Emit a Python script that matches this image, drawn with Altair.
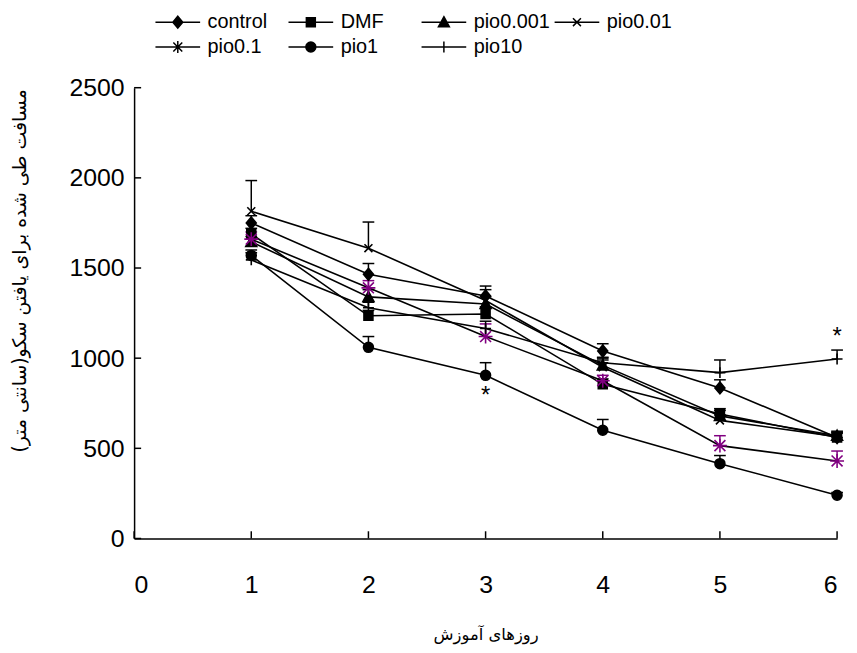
import altair as alt
import pandas as pd

days = [1, 2, 3, 4, 5, 6]
series_names = ["control", "DMF", "pio0.001", "pio0.01", "pio0.1", "pio1", "pio10"]
values = {
    "control":  [1750, 1465, 1345, 1040, 835, 560],
    "DMF":      [1690, 1235, 1245, 855, 690, 560],
    "pio0.001": [1645, 1340, 1300, 960, 680, 570],
    "pio0.01":  [1815, 1610, 1320, 950, 655, 565],
    "pio0.1":   [1660, 1390, 1120, 875, 515, 430],
    "pio1":     [1570, 1060, 905, 600, 415, 240],
    "pio10":    [1545, 1280, 1165, 975, 920, 995],
}
errors = {
    "control":  [40, 60, 55, 40, 45, 25],
    "DMF":      [30, 30, 40, 30, 30, 25],
    "pio0.001": [30, 40, 40, 40, 30, 25],
    "pio0.01":  [170, 145, 60, 40, 30, 25],
    "pio0.1":   [40, 40, 70, 30, 55, 55],
    "pio1":     [30, 60, 70, 60, 45, 15],
    "pio10":    [40, 30, 40, 30, 70, 50],
}
annot_days = [3, 6]
annot_vals = [790, 1115]
y_ticks = [0, 500, 1000, 1500, 2000, 2500]
x_ticks = [0, 1, 2, 3, 4, 5, 6]

marker_paths = [
    "M0,-1.2L1,0L0,1.2L-1,0Z",
    "M-0.9,-0.9H0.9V0.9H-0.9Z",
    "M0,-1.1L1.1,0.9H-1.1Z",
    "M-0.8,-0.8L0.8,0.8M-0.8,0.8L0.8,-0.8",
    "M-1.1,-1.1L1.1,1.1M-1.1,1.1L1.1,-1.1M0,-1.4V1.4M-1.4,0H1.4",
    "M1,0A1,1,0,1,1,-1,0A1,1,0,1,1,1,0Z",
    "M0,-1.1V1.1M-1.1,0H1.1",
]
legend_markers = marker_paths[:4] + [
    "M-0.9,-0.9L0.9,0.9M-0.9,0.9L0.9,-0.9M0,-1.2V1.2"] + marker_paths[5:]
line_seg = "M-4.5,0H4.5"
legend_paths = [line_seg + p for p in legend_markers]
colors = ["black", "black", "black", "black", "#800080", "black", "black"]
legend_colors = ["black"] * 7

rows = []
for s in series_names:
    for d, v, e in zip(days, values[s], errors[s]):
        rows.append({"day": d, "series": s, "value": v, "top": v + e})
df = pd.DataFrame(rows)
annot_df = pd.DataFrame({"day": annot_days, "value": annot_vals, "t": ["*", "*"]})
yt_df = pd.DataFrame({"v": y_ticks})
xt_df = pd.DataFrame({"d": x_ticks})

FONT = "Liberation Sans"
xscale = alt.Scale(domain=[0, 6], nice=False, zero=False)
yscale = alt.Scale(domain=[0, 2500], nice=False)

x_enc = alt.X("day:Q", scale=xscale, axis=alt.Axis(
    values=x_ticks, format="d", tickSize=0, labelPadding=34, labelFontSize=25, labelFont=FONT,
    labelColor="black", domainColor="black", domainWidth=1.5, grid=False,
    title="روزهای آموزش", titleFont="DejaVu Sans", titleFontSize=16.5,
    titleFontWeight="normal", titleColor="black", titlePadding=30))
y_enc = alt.Y("value:Q", scale=yscale, axis=alt.Axis(
    values=y_ticks, format="d", tickSize=0, labelPadding=10, labelFontSize=25, labelFont=FONT,
    labelColor="black", domainColor="black", domainWidth=1.5, grid=False,
    title="مسافت طی شده برای یافتن سکو(سانتی متر)", titleFont="DejaVu Sans",
    titleFontSize=19, titleFontWeight="normal", titleColor="black",
    titleAngle=-90, titleX=-115, titleY=184, titleAlign="center", titleBaseline="middle"))

col_scale = alt.Scale(domain=series_names, range=colors)

base = alt.Chart(df)
lines = base.mark_line(color="black", strokeWidth=1.6).encode(
    x=x_enc, y=y_enc, detail="series:N")
err_rules = base.mark_rule(strokeWidth=1.5).encode(
    x="day:Q", y="value:Q", y2="top:Q",
    stroke=alt.Stroke("series:N", scale=col_scale, legend=None))
caps = base.transform_calculate(xl="datum.day - 0.05", xr="datum.day + 0.05").mark_rule(
    strokeWidth=1.5).encode(
    x="xl:Q", x2="xr:Q", y="top:Q",
    stroke=alt.Stroke("series:N", scale=col_scale, legend=None))
points = base.mark_point(filled=True, size=100, strokeWidth=1.6, opacity=1).encode(
    x="day:Q", y="value:Q",
    shape=alt.Shape("series:N", scale=alt.Scale(domain=series_names, range=marker_paths), legend=None),
    fill=alt.Fill("series:N", scale=col_scale, legend=None),
    stroke=alt.Stroke("series:N", scale=col_scale, legend=None))

leg_cfg = alt.Legend(
    title=None, orient="none", legendX=34, legendY=-76, columns=4,
    direction="horizontal",
    gridAlign="all", columnPadding=1, rowPadding=5,
    symbolSize=100, symbolStrokeWidth=1.5, symbolOpacity=1, labelOffset=20,
    labelFontSize=20, labelFont=FONT, labelColor="black", labelLimit=200)
leg_col_scale = alt.Scale(domain=series_names, range=legend_colors)
legend_layer = base.transform_calculate(leg="datum.series").transform_filter(
    "datum.value < 0").mark_point(
    filled=True, size=100, opacity=1, strokeWidth=1.5).encode(
    x="day:Q", y="value:Q",
    shape=alt.Shape("leg:N", scale=alt.Scale(domain=series_names, range=legend_paths),
                    legend=leg_cfg),
    fill=alt.Fill("leg:N", scale=leg_col_scale, legend=leg_cfg),
    stroke=alt.Stroke("leg:N", scale=leg_col_scale, legend=leg_cfg))
annots = alt.Chart(annot_df).mark_text(fontSize=24, font=FONT, color="black",
                                       baseline="middle").encode(
    x="day:Q", y="value:Q", text="t:N")
ytick_marks = alt.Chart(yt_df).transform_calculate(x0="0", x1="0.06").mark_rule(
    color="black", strokeWidth=1.5).encode(x="x0:Q", x2="x1:Q", y="v:Q")
xtick_marks = alt.Chart(xt_df).transform_calculate(y0="0", y1="40").mark_rule(
    color="black", strokeWidth=1.5).encode(x="d:Q", y="y0:Q", y2="y1:Q")

chart = alt.layer(lines, err_rules, caps, points, legend_layer, annots,
                  ytick_marks, xtick_marks).resolve_scale(
    shape="independent", fill="independent", stroke="independent").properties(
    width=708, height=454,
    autosize=alt.AutoSizeParams(type="none"),
    padding={"left": 127, "top": 78, "right": 12, "bottom": 105},
).configure(background="white").configure_view(stroke=None)

chart.save("out.html", embed_options={"renderer": "svg", "actions": False})
